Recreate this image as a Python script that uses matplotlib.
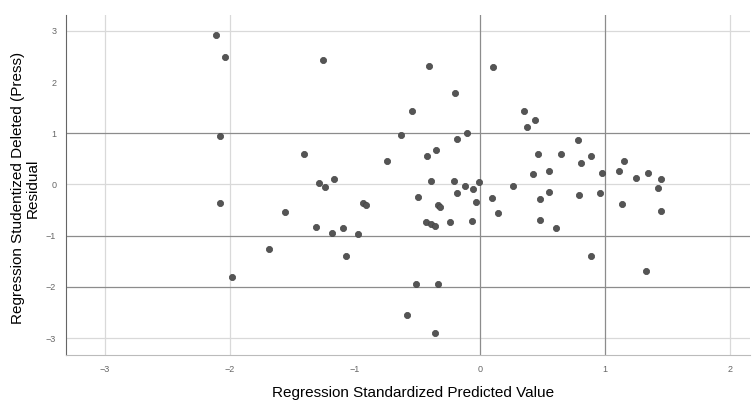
import matplotlib.pyplot as plt

plt.rcParams['font.family'] = ['Liberation Sans', 'DejaVu Sans']

# Data
pred = [-2.106, -2.04, -1.254, -0.406, -0.198, -0.542, -2.078, -0.630, -0.178, -0.098,
        -1.408, -0.744, -0.424, -0.352, 0.106, 0.352, 0.442, 0.376, 0.786, 0.466,
        0.648, 0.888, 0.814, 1.154, 1.112, 1.254, 1.346, 1.448, 1.426, 1.448,
        0.976, 0.960, 1.138, 0.792, 0.558, 0.430, 0.552, 0.480, 0.266, 0.150,
        0.096, 0.482, 0.614, -0.006, -0.056, -0.114, -0.032, -0.064, -0.182, -0.202,
        -0.390, -0.490, -0.334, -0.314, -0.426, -0.392, -0.358, -0.240, 0.890, 1.330,
        -0.512, -0.330, -0.582, -0.360, -1.286, -1.240, -1.166, -2.078, -1.558, -0.930,
        -0.912, -1.312, -1.178, -1.096, -0.974, -1.682, -1.070, -1.984]
resid = [2.922, 2.495, 2.437, 2.320, 1.790, 1.427, 0.942, 0.975, 0.887, 1.014,
         0.598, 0.462, 0.548, 0.664, 2.301, 1.427, 1.266, 1.130, 0.864, 0.598,
         0.598, 0.548, 0.412, 0.462, 0.268, 0.132, 0.229, 0.113, -0.074, -0.515,
         0.229, -0.171, -0.379, -0.198, 0.268, 0.204, -0.146, -0.282, -0.035, -0.548,
         -0.256, -0.695, -0.850, 0.049, -0.087, -0.023, -0.340, -0.709, -0.159, 0.074,
         0.068, -0.237, -0.404, -0.437, -0.728, -0.767, -0.819, -0.734, -1.402, -1.685,
         -1.951, -1.938, -2.540, -2.903, 0.035, -0.043, 0.107, -0.359, -0.534, -0.365,
         -0.398, -0.831, -0.948, -0.845, -0.975, -1.258, -1.402, -1.802]

x_ticks = [-3, -2, -1, 0, 1, 2]
y_ticks = [-3, -2, -1, 0, 1, 2, 3]
x_ref = [0, 1]
y_ref = [1, -1, -2]

fig = plt.figure(figsize=(7.53, 4.0), dpi=100)
ax = fig.add_axes([0.0876, 0.1125, 0.908, 0.85])

# light grid at ticks, darker reference lines
for v in [-3, -2, 2]:
    ax.axvline(v, color='#d9d9d9', lw=0.9, zorder=0)
for v in [3, 0, -3]:
    ax.axhline(v, color='#d9d9d9', lw=0.9, zorder=0)
for v in x_ref:
    ax.axvline(v, color='#8c8c8c', lw=0.9, zorder=0)
for v in y_ref:
    ax.axhline(v, color='#8c8c8c', lw=0.9, zorder=0)

ax.scatter(pred, resid, s=20, color='#555555', edgecolors='#444444', linewidths=0.5, zorder=3)

ax.set_xlim(-3.31, 2.16)
ax.set_ylim(-3.33, 3.31)
ax.set_xticks(x_ticks)
ax.set_yticks(y_ticks)
ax.tick_params(labelsize=6.5, colors='#666666', length=0, pad=7)

for s in ['top', 'right']:
    ax.spines[s].set_visible(False)
ax.spines['left'].set_color('#666666')
ax.spines['bottom'].set_color('#bbbbbb')

fig.text(0.548, 0.018, 'Regression Standardized Predicted Value', fontsize=11,
         ha='center', va='center')
fig.text(0.034, 0.53, 'Regression Studentized Deleted (Press)\nResidual', fontsize=11,
         ha='center', va='center', rotation=90, linespacing=1.1)

plt.savefig('out.png', dpi=100)
